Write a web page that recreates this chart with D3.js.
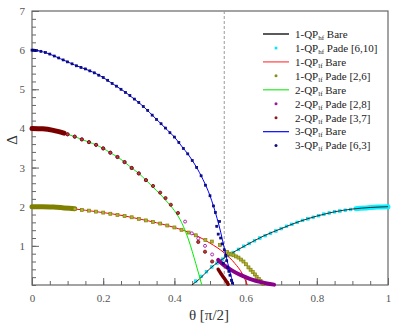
<!DOCTYPE html>
<html>
<head>
<meta charset="utf-8">
<script src="https://cdn.jsdelivr.net/npm/d3@7.9.0/dist/d3.min.js"></script>
<style>
  body { margin: 0; background: #fff; }
</style>
</head>
<body>
<svg width="415" height="327" font-family="Liberation Serif"></svg>
<script>
// tick labels
const thetaTicks = [0, 0.2, 0.4, 0.6, 0.8, 1];
const deltaTicks = [1, 2, 3, 4, 5, 6, 7];
const thetaTransition = 0.54;

// 1-QP hf
const qp1hfBare = [[0.449,0],[0.47,0.15],[0.50,0.42],[0.55,0.75],[0.60,1.01],[0.65,1.25],[0.70,1.44],
  [0.75,1.62],[0.80,1.76],[0.85,1.87],[0.90,1.94],[0.95,1.98],[1.00,2.00]];
const qp1hfPade = [[0.46,0.1],[0.475,0.22],[0.49,0.34],[0.505,0.46],[0.52,0.56],[0.535,0.66],[0.55,0.75],
  [0.565,0.83],[0.58,0.91],[0.595,0.99],[0.61,1.06],[0.625,1.13],[0.64,1.2],[0.655,1.26],[0.67,1.32],
  [0.685,1.38],[0.70,1.44],[0.715,1.5],[0.73,1.55],[0.745,1.6],[0.76,1.65],[0.775,1.69],[0.79,1.73],
  [0.805,1.77],[0.82,1.81],[0.835,1.84],[0.85,1.87],[0.865,1.89],[0.88,1.91],[0.895,1.93]];
const qp1hfPadeBand = [[0.91,1.95],[0.94,1.97],[0.97,1.99],[1.0,2.0]];

// 1-QP lf
const qp1lfBare = [[0,2.0],[0.05,1.99],[0.10,1.96],[0.15,1.91],[0.20,1.85],[0.25,1.78],[0.30,1.69],
  [0.35,1.59],[0.40,1.47],[0.45,1.31],[0.50,1.07],[0.54,0.82],[0.57,0.55],[0.59,0.3],[0.605,0]];
const qp1lfPade = [[0.12,1.945],[0.14,1.92],[0.16,1.9],[0.18,1.875],[0.20,1.85],[0.22,1.82],[0.24,1.79],
  [0.26,1.76],[0.28,1.73],[0.30,1.69],[0.32,1.65],[0.34,1.61],[0.36,1.57],[0.38,1.52],[0.40,1.47],
  [0.42,1.41],[0.44,1.34],[0.46,1.27],[0.487,1.15],[0.505,1.11],[0.528,1.02],
  [0.548,0.84],[0.554,0.8],[0.56,0.78],[0.566,0.76],[0.573,0.73],[0.58,0.7],[0.587,0.65],[0.594,0.6],
  [0.601,0.53],[0.608,0.45],[0.614,0.39],[0.62,0.33],[0.626,0.27],[0.631,0.21],[0.637,0.15],
  [0.642,0.1],[0.646,0.06],[0.65,0.03]];
const qp1lfPadeBand = [[0,2.0],[0.03,2.0],[0.06,1.99],[0.09,1.97],[0.12,1.95]];

// 2-QP lf
const qp2Bare = [[0,4.0],[0.02,3.99],[0.04,3.97],[0.06,3.94],[0.08,3.9],[0.10,3.85],[0.12,3.79],
  [0.14,3.72],[0.16,3.65],[0.18,3.58],[0.20,3.49],[0.22,3.38],[0.24,3.27],[0.26,3.14],[0.28,2.99],
  [0.30,2.85],[0.32,2.68],[0.34,2.5],[0.36,2.32],[0.38,2.12],[0.40,1.9],[0.42,1.6],[0.44,1.15],
  [0.46,0.55],[0.477,0]];
const qp2Pade28 = [[0.10,3.85],[0.12,3.79],[0.14,3.72],[0.16,3.65],[0.18,3.58],[0.20,3.49],[0.22,3.38],
  [0.24,3.27],[0.26,3.14],[0.28,2.99],[0.30,2.85],[0.32,2.68],[0.43,1.62],[0.449,1.32],[0.467,1.19],
  [0.486,1.0],[0.506,0.78]];
const qp2Pade28Band = [[0.523,0.64],[0.54,0.5],[0.56,0.38],[0.58,0.28],[0.60,0.2],[0.62,0.13],
  [0.64,0.08],[0.66,0.04],[0.68,0.01]];
const qp2Pade37 = [[0.10,3.85],[0.12,3.79],[0.14,3.72],[0.16,3.65],[0.18,3.58],[0.20,3.49],[0.22,3.38],
  [0.24,3.27],[0.26,3.14],[0.28,2.99],[0.30,2.85],[0.32,2.68],[0.34,2.53],[0.36,2.36],[0.375,2.22],
  [0.39,2.05],[0.41,1.84],[0.467,1.1],[0.486,0.85],[0.506,0.6]];
const qp2Pade37Band = [[0.523,0.4],[0.53,0.3],[0.54,0.17],[0.551,0.02]];
const qp2Pade37Start = [[0,4.0],[0.03,3.99],[0.06,3.95],[0.09,3.88]];

// 3-QP lf
const qp3Bare = [[0,6.0],[0.02,5.98],[0.04,5.93],[0.06,5.86],[0.08,5.78],[0.10,5.7],[0.12,5.62],
  [0.14,5.55],[0.16,5.48],[0.18,5.4],[0.20,5.3],[0.22,5.18],[0.24,5.06],[0.26,4.94],[0.28,4.8],
  [0.30,4.66],[0.32,4.5],[0.34,4.32],[0.36,4.14],[0.38,3.96],[0.40,3.78],[0.42,3.55],[0.44,3.32],
  [0.46,3.04],[0.48,2.7],[0.50,2.28],[0.52,1.7],[0.53,1.35],[0.54,0.95],[0.55,0.55],[0.56,0.2],[0.566,0]];
const qp3Pade = [[0,6.0],[0.004,6.0],[0.008,5.99],[0.0125,5.99],[0.025,5.97],[0.0375,5.94],[0.05,5.9],
  [0.0625,5.85],[0.075,5.8],[0.0875,5.75],[0.1,5.7],[0.1125,5.65],[0.125,5.6],[0.1375,5.56],[0.15,5.52],
  [0.1625,5.47],[0.175,5.42],[0.1875,5.36],[0.2,5.3],[0.2125,5.23],[0.225,5.15],[0.2375,5.08],
  [0.25,5.0],[0.2625,4.92],[0.275,4.84],[0.2875,4.75],[0.3,4.66],[0.3125,4.56],[0.325,4.46],
  [0.3375,4.34],[0.35,4.23],[0.3625,4.12],[0.375,4.01],[0.3875,3.89],[0.4,3.78],[0.4125,3.64],
  [0.425,3.49],[0.4375,3.35],[0.45,3.18],[0.4625,3.0],[0.475,2.79],[0.4875,2.55],[0.5,2.28],
  [0.51,2.02],[0.515,1.85],[0.519,1.5],[0.523,1.3],[0.527,1.62],[0.53,1.2],[0.534,1.05],[0.537,0.55],
  [0.54,0.9],[0.544,0.75],[0.547,0.62],[0.55,0.45],[0.553,0.35],[0.556,0.25],[0.56,0.12],[0.563,0.05]];

const legendItems = [
  { sub: 'hf', tail: ' Bare', kind: 'line', color: '#000000' },
  { sub: 'hf', tail: ' Pade [6,10]', kind: 'dot', color: '#00e8ff' },
  { sub: 'lf', tail: ' Bare', kind: 'line', color: '#ff5050' },
  { sub: 'lf', tail: ' Pade [2,6]', kind: 'dot', color: '#8c8c1a' },
  { sub: 'lf', tail: ' Bare', kind: 'line', color: '#33ee33', n: 2 },
  { sub: 'lf', tail: ' Pade [2,8]', kind: 'dot', color: '#9a1a9a', n: 2 },
  { sub: 'lf', tail: ' Pade [3,7]', kind: 'dot', color: '#8b1a1a', n: 2 },
  { sub: 'lf', tail: ' Bare', kind: 'line', color: '#1a1aff', n: 3 },
  { sub: 'lf', tail: ' Pade [6,3]', kind: 'dot', color: '#10107a', n: 3 }
];

const serif = 'Liberation Serif';
const svg = d3.select('svg');
const x = d3.scaleLinear().domain([0, 1]).range([32, 388]);
const y = d3.scaleLinear().domain([0, 7]).range([285, 11]);

const line = d3.line().x(d => x(d[0])).y(d => y(d[1])).curve(d3.curveMonotoneX);

// axes (ticks point inward)
const axisColor = '#666';
const xMinor = d3.range(0, 1.0001, 0.05);
const yMinor = d3.range(0, 7.0001, 0.2);

svg.append('g').attr('transform', 'translate(0,285)')
  .call(d3.axisBottom(x).tickValues(xMinor).tickSize(-4).tickFormat(''));
svg.append('g').attr('transform', 'translate(0,285)')
  .call(d3.axisBottom(x).tickValues(thetaTicks).tickSize(-7).tickPadding(9).tickFormat(d3.format('')));
svg.append('g').attr('transform', 'translate(32,0)')
  .call(d3.axisLeft(y).tickValues(yMinor).tickSize(-4).tickFormat(''));
svg.append('g').attr('transform', 'translate(32,0)')
  .call(d3.axisLeft(y).tickValues(deltaTicks).tickSize(-7).tickPadding(7).tickFormat(d3.format('d')));

svg.selectAll('g').attr('font-family', serif).attr('font-size', 11);
svg.selectAll('.domain').remove();
svg.selectAll('.tick line').attr('stroke', axisColor);
svg.selectAll('.tick text').attr('fill', '#555');

svg.append('rect')
  .attr('x', 32).attr('y', 11).attr('width', 356).attr('height', 274)
  .attr('fill', 'none').attr('stroke', axisColor).attr('stroke-width', 1.2);

// transition marker
svg.append('line')
  .attr('x1', x(thetaTransition)).attr('x2', x(thetaTransition))
  .attr('y1', y(7)).attr('y2', y(0))
  .attr('stroke', '#999').attr('stroke-dasharray', '3,2');

const plot = svg.append('g');

function band(data, color, width) {
  plot.append('path').attr('d', line(data)).attr('fill', 'none')
    .attr('stroke', color).attr('stroke-width', width).attr('stroke-linecap', 'round');
}
function curve(data, color, width) {
  plot.append('path').attr('d', line(data)).attr('fill', 'none')
    .attr('stroke', color).attr('stroke-width', width || 1);
}
function squares(data, fill, stroke, s) {
  plot.append('g').selectAll('rect').data(data).join('rect')
    .attr('x', d => x(d[0]) - s / 2).attr('y', d => y(d[1]) - s / 2)
    .attr('width', s).attr('height', s)
    .attr('fill', fill).attr('stroke', stroke).attr('stroke-width', 0.7);
}
function circles(data, fill, stroke, r) {
  plot.append('g').selectAll('circle').data(data).join('circle')
    .attr('cx', d => x(d[0])).attr('cy', d => y(d[1])).attr('r', r)
    .attr('fill', fill).attr('stroke', stroke).attr('stroke-width', 0.8);
}

// 1-QP hf
squares(qp1hfPade, '#30f0ff', '#00d8ee', 2.6);
band(qp1hfPadeBand, '#10eeff', 5);
curve(qp1hfBare, '#000', 0.8);

// 1-QP lf
curve(qp1lfBare, '#ff0000', 1);
band(qp1lfPadeBand, '#808000', 5);
squares(qp1lfPade, '#b0b040', '#808000', 3);

// 2-QP
curve(qp2Bare, '#00ee00', 1);
circles(qp2Pade28, '#fff', '#990099', 1.5);
band(qp2Pade28Band, '#8a008a', 4);
band(qp2Pade37Start, '#7a0000', 5);
circles(qp2Pade37, '#b04040', '#7a0000', 1.6);
band(qp2Pade37Band, '#7a0000', 3.5);

// 3-QP
curve(qp3Bare, '#0000ff', 1);
squares(qp3Pade, '#1010a0', '#000070', 2);

// legend
const leg = svg.append('g');
legendItems.forEach((it, i) => {
  const ly = 34 + i * 13.95;
  if (it.kind === 'line') {
    leg.append('line').attr('x1', 263).attr('x2', 289).attr('y1', ly).attr('y2', ly)
      .attr('stroke', it.color).attr('stroke-width', 1.3);
  } else {
    leg.append('circle').attr('cx', 276).attr('cy', ly).attr('r', 1.5).attr('fill', it.color);
  }
  const t = leg.append('text').attr('x', 295).attr('y', ly + 3.8)
    .attr('fill', '#222').attr('font-size', 11).attr('font-family', serif);
  t.append('tspan').text((it.n || 1) + '-QP');
  t.append('tspan').attr('dy', 2).attr('font-size', 7).text(it.sub);
  t.append('tspan').attr('dy', -2).text(it.tail);
});

// axis titles
svg.append('text').attr('x', 209).attr('y', 320).attr('text-anchor', 'middle')
  .attr('fill', '#333').attr('font-size', 15).attr('font-family', serif).text('θ [π/2]');
svg.append('text').attr('transform', 'translate(17,140) rotate(-90)').attr('text-anchor', 'middle')
  .attr('fill', '#333').attr('font-size', 15).attr('font-family', serif).text('Δ');
</script>
</body>
</html>
